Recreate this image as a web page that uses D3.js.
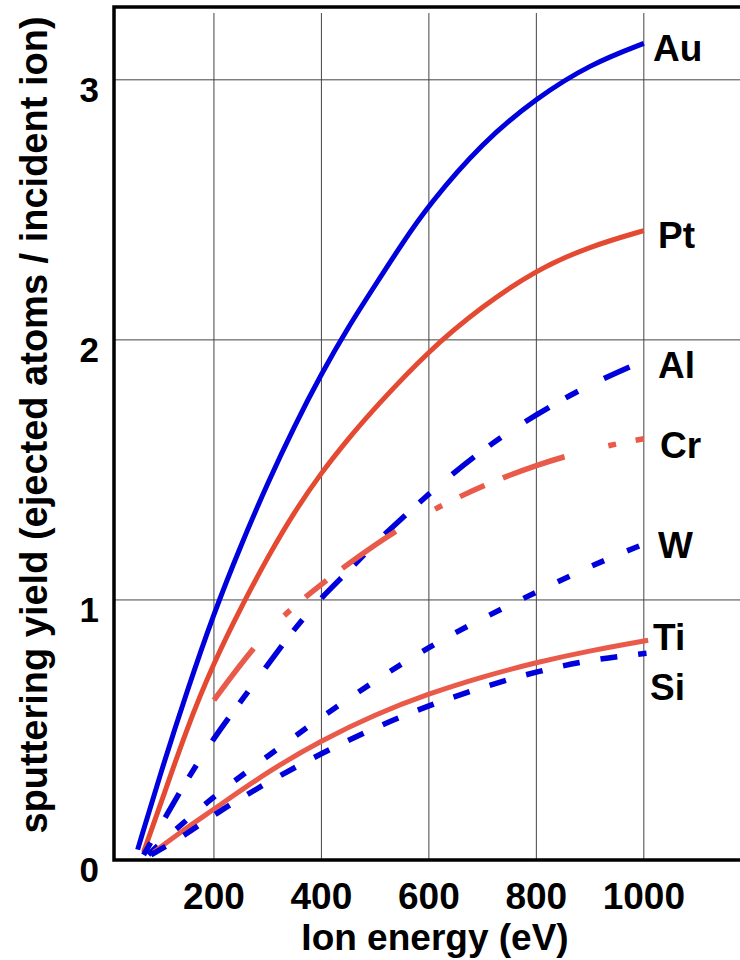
<!DOCTYPE html>
<html lang="en">
<head>
<meta charset="UTF-8">
<title>Sputtering yield vs ion energy</title>
<script src="https://d3js.org/d3.v7.min.js"></script>
<style>
  body { margin: 0; background: #fff; }
  svg { display: block; font-family: "Liberation Sans", Arial, sans-serif; font-weight: bold; }
</style>
</head>
<body>
<svg width="740" height="960"></svg>
<script>
// tick values
const xTicks = [200, 400, 600, 800, 1000];
const yTicks = [0, 1, 2, 3];

// series: ion energy (eV) and sputtering yield
const auE = [58, 100, 150, 200, 250, 300, 350, 400, 450, 500, 550, 600, 700, 800, 900, 1000];
const auY = [0.04, 0.33, 0.65, 0.95, 1.21, 1.45, 1.67, 1.87, 2.05, 2.21, 2.37, 2.52, 2.76, 2.93, 3.06, 3.14];

const ptE = [69, 100, 150, 200, 250, 300, 350, 400, 450, 500, 600, 700, 800, 900, 1000];
const ptY = [0.03, 0.21, 0.51, 0.76, 0.97, 1.165, 1.34, 1.49, 1.62, 1.74, 1.96, 2.13, 2.27, 2.36, 2.42];

const alE = [69, 110, 150, 200, 250, 300, 350, 400, 450, 500, 600, 700, 800, 900, 1000];
const alY = [0.02, 0.165, 0.31, 0.47, 0.61, 0.75, 0.89, 1.01, 1.11, 1.22, 1.41, 1.58, 1.715, 1.83, 1.92];

const crE = [200, 270, 333, 400, 450, 540, 620, 700, 800, 900, 1000];
const crY = [0.615, 0.81, 0.95, 1.06, 1.14, 1.27, 1.36, 1.44, 1.52, 1.58, 1.62];

const wE = [78, 100, 150, 200, 300, 400, 500, 600, 700, 800, 900, 1000];
const wY = [0.02, 0.065, 0.155, 0.245, 0.40, 0.55, 0.69, 0.82, 0.93, 1.03, 1.13, 1.215];

const tiE = [88, 150, 200, 300, 400, 500, 600, 700, 800, 900, 1008];
const tiY = [0.03, 0.125, 0.195, 0.34, 0.46, 0.56, 0.64, 0.705, 0.76, 0.805, 0.845];

const siE = [83, 150, 200, 300, 400, 500, 600, 700, 800, 900, 1005];
const siY = [0.02, 0.10, 0.175, 0.30, 0.41, 0.51, 0.595, 0.665, 0.725, 0.77, 0.795];

const blue = "#0000dc";
const red = "#e44a32";
const red2 = "#e95a4a";

const series = [
  { name: "Au", e: auE, y: auY, color: blue, dash: null,               w: 5,   lx: 653, ly: 61 },
  { name: "Pt", e: ptE, y: ptY, color: red,  dash: null,               w: 5,   lx: 658, ly: 248 },
  { name: "Al", e: alE, y: alY, color: blue, dash: "14,29,28,19",      w: 5.5, lx: 658, ly: 378 },
  { name: "Cr", e: crE, y: crY, color: red2, dash: "65,45,8,20,27,20", w: 5.5, lx: 660, ly: 458 },
  { name: "W",  e: wE,  y: wY,  color: blue, dash: "13,25",            w: 5.5, lx: 658, ly: 558 },
  { name: "Ti", e: tiE, y: tiY, color: red2, dash: null,               w: 5,   lx: 653, ly: 650 },
  { name: "Si", e: siE, y: siY, color: blue, dash: "17,21",            w: 5.5, lx: 650, ly: 700 }
];

const svg = d3.select("svg");
const plotL = 114, plotR = 740, plotT = 7, plotB = 860;

const x = d3.scaleLinear().domain([14, 1179]).range([plotL, plotR]);
const y = d3.scaleLinear().domain([0, 3.28]).range([plotB, plotT]);

// grid
svg.append("g").selectAll("line")
  .data(xTicks).enter().append("line")
  .attr("x1", d => x(d)).attr("x2", d => x(d))
  .attr("y1", 13).attr("y2", plotB)
  .attr("stroke", "#444").attr("stroke-width", 1);

svg.append("g").selectAll("line")
  .data(yTicks.filter(d => d > 0)).enter().append("line")
  .attr("x1", plotL).attr("x2", plotR)
  .attr("y1", d => y(d)).attr("y2", d => y(d))
  .attr("stroke", "#444").attr("stroke-width", 1);

// frame
svg.append("path")
  .attr("d", `M${plotR},${plotT}H${plotL}V${plotB}H${plotR}`)
  .attr("fill", "none").attr("stroke", "#000").attr("stroke-width", 3.5);

// curves (basis spline smooths the hand-read points)
const line = d3.line()
  .x(d => x(d[0]))
  .y(d => y(d[1]))
  .curve(d3.curveBasis);

series.forEach(s => {
  const pts = s.e.map((e, i) => [e, s.y[i]]);
  svg.append("path")
    .attr("d", line(pts))
    .attr("fill", "none")
    .attr("stroke", s.color)
    .attr("stroke-width", s.w)
    .attr("stroke-dasharray", s.dash);
  svg.append("text")
    .attr("x", s.lx).attr("y", s.ly)
    .attr("font-size", 37)
    .text(s.name);
});

// tick labels
svg.append("g").selectAll("text")
  .data(xTicks).enter().append("text")
  .attr("x", d => x(d)).attr("y", 909)
  .attr("text-anchor", "middle")
  .attr("font-size", 37)
  .text(d => d);

svg.append("g").selectAll("text")
  .data(yTicks).enter().append("text")
  .attr("x", 99).attr("y", d => y(d) + 22)
  .attr("text-anchor", "end")
  .attr("font-size", 35)
  .text(d => d);

// axis titles
svg.append("text")
  .attr("x", 435).attr("y", 950)
  .attr("text-anchor", "middle")
  .attr("font-size", 37)
  .text("Ion energy (eV)");

svg.append("text")
  .attr("transform", "translate(47,425) rotate(-90)")
  .attr("text-anchor", "middle")
  .attr("font-size", 38)
  .text("sputtering yield (ejected atoms / incident ion)");
</script>
</body>
</html>
